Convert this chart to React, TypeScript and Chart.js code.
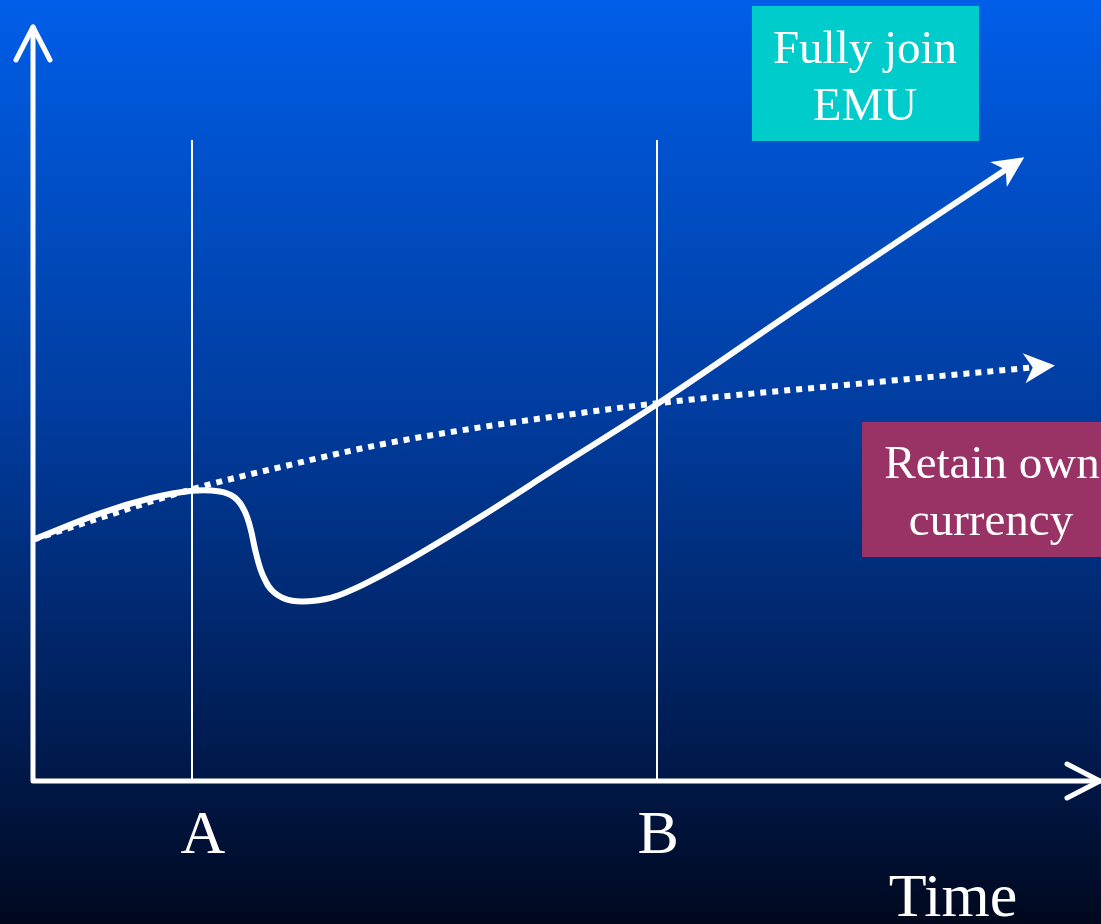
import { useEffect, useRef } from "react";
import { Chart, registerables } from "chart.js";

Chart.register(...registerables);

// Scale ranges (abstract time / level units)
const timeRange = [0, 100];
const levelRange = [0, 100];

// Event markers on the time axis
const eventLabels = ["A", "B"];
const eventTimes = [14.9, 58.5];
const eventLineTop = 85;
const axisTitle = "Time";

// Path when the country fully joins EMU
const joinTimes = [
  0, 6.3, 11.0, 14.9, 17.5, 18.9, 19.8, 20.4, 20.9, 21.6, 22.6,
  24.3, 26.9, 28.8, 31.6, 36.3, 41.9, 49.4, 58.5, 71.9, 91.5,
];
const joinLevels = [
  32.0, 35.5, 37.5, 38.5, 38.4, 37.6, 35.9, 33.4, 30.2, 27.1, 25.0,
  23.9, 24.0, 24.7, 26.5, 30.2, 35.0, 41.8, 50.0, 62.9, 81.4,
];

// Path when the country retains its own currency
const retainTimes = [0, 6.3, 14.9, 23.1, 32.5, 41.9, 51.3, 58.5, 78.2, 94.1];
const retainLevels = [32.0, 34.9, 38.7, 41.6, 44.6, 46.9, 48.8, 50.1, 52.8, 54.9];

const joinLabel = ["Fully join", "EMU"];
const retainLabel = ["Retain own", "currency"];

const SERIF = '"Liberation Serif", "Times New Roman", serif';

function drawStealthArrow(ctx: CanvasRenderingContext2D, x: number, y: number, angle: number) {
  const L = 31;
  const W = 15;
  const lead = 18;
  const dx = Math.cos(angle);
  const dy = Math.sin(angle);
  const nx = -dy;
  const ny = dx;
  const tx = x + dx * lead;
  const ty = y + dy * lead;
  ctx.beginPath();
  ctx.moveTo(tx, ty);
  ctx.lineTo(tx - dx * L + nx * W, ty - dy * L + ny * W);
  ctx.lineTo(tx - dx * L * 0.72, ty - dy * L * 0.72);
  ctx.lineTo(tx - dx * L - nx * W, ty - dy * L - ny * W);
  ctx.closePath();
  ctx.fillStyle = "#ffffff";
  ctx.fill();
}

function drawOpenArrow(ctx: CanvasRenderingContext2D, x: number, y: number, angle: number) {
  const L = 33;
  const W = 17;
  const dx = Math.cos(angle);
  const dy = Math.sin(angle);
  const nx = -dy;
  const ny = dx;
  ctx.beginPath();
  ctx.moveTo(x - dx * L + nx * W, y - dy * L + ny * W);
  ctx.lineTo(x, y);
  ctx.lineTo(x - dx * L - nx * W, y - dy * L - ny * W);
  ctx.stroke();
}

const diagramPlugin = {
  id: "emuDiagram",
  beforeDraw(chart: any) {
    const { ctx, width, height } = chart;
    const g = ctx.createLinearGradient(0, 0, 0, height);
    g.addColorStop(0, "#005ee8");
    g.addColorStop(0.45, "#003c9e");
    g.addColorStop(0.8, "#001c52");
    g.addColorStop(1, "#00081e");
    ctx.save();
    ctx.fillStyle = g;
    ctx.fillRect(0, 0, width, height);
    ctx.restore();
  },
  beforeDatasetsDraw(chart: any) {
    const { ctx, scales, chartArea } = chart;
    ctx.save();
    ctx.strokeStyle = "#ffffff";
    ctx.lineWidth = 2;
    const top = scales.y.getPixelForValue(eventLineTop);
    eventTimes.forEach((t) => {
      const x = Math.round(scales.x.getPixelForValue(t));
      ctx.beginPath();
      ctx.moveTo(x, top);
      ctx.lineTo(x, chartArea.bottom);
      ctx.stroke();
    });
    ctx.restore();
  },
  afterDatasetsDraw(chart: any) {
    const { ctx, scales, chartArea } = chart;
    ctx.save();

    // arrowheads at the end of each path
    chart.data.datasets.forEach((_: any, i: number) => {
      const pts = chart.getDatasetMeta(i).data;
      const a = pts[pts.length - 2];
      const b = pts[pts.length - 1];
      drawStealthArrow(ctx, b.x, b.y, Math.atan2(b.y - a.y, b.x - a.x));
    });

    // axes
    const x0 = scales.x.getPixelForValue(timeRange[0]);
    const x1 = scales.x.getPixelForValue(timeRange[1]);
    const y0 = scales.y.getPixelForValue(levelRange[0]);
    const y1 = scales.y.getPixelForValue(levelRange[1]);
    ctx.strokeStyle = "#ffffff";
    ctx.lineWidth = 5;
    ctx.lineCap = "round";
    ctx.lineJoin = "round";
    ctx.beginPath();
    ctx.moveTo(x0, y1);
    ctx.lineTo(x0, y0);
    ctx.lineTo(x1, y0);
    ctx.stroke();
    drawOpenArrow(ctx, x0, y1, -Math.PI / 2);
    drawOpenArrow(ctx, x1, y0, 0);

    // event labels and axis title
    ctx.fillStyle = "#ffffff";
    ctx.textAlign = "center";
    ctx.textBaseline = "alphabetic";
    ctx.font = `62px ${SERIF}`;
    eventLabels.forEach((lab, i) => {
      const x = scales.x.getPixelForValue(eventTimes[i]);
      ctx.fillText(lab, x + (i === 0 ? 11 : 1), chartArea.bottom + 72);
    });
    ctx.fillText(axisTitle, 953, 916);

    // path labels
    ctx.fillStyle = "#00cccc";
    ctx.fillRect(752, 6, 227, 135);
    ctx.fillStyle = "#993366";
    ctx.fillRect(862, 422, 260, 135);
    ctx.fillStyle = "#ffffff";
    ctx.font = `47px ${SERIF}`;
    ctx.fillText(joinLabel[0], 865, 63);
    ctx.fillText(joinLabel[1], 865, 120);
    ctx.fillText(retainLabel[0], 992, 478);
    ctx.fillText(retainLabel[1], 991, 535);

    ctx.restore();
  },
};

export default function App() {
  const canvasRef = useRef<HTMLCanvasElement | null>(null);

  useEffect(() => {
    document.body.style.margin = "0";
    const canvas = canvasRef.current;
    if (!canvas) return;
    const chart = new Chart(canvas, {
      type: "line",
      data: {
        datasets: [
          {
            label: "Fully join EMU",
            data: joinTimes.map((t, i) => ({ x: t, y: joinLevels[i] })),
            borderColor: "#ffffff",
            borderWidth: 6,
            pointRadius: 0,
            tension: 0.4,
            borderJoinStyle: "round",
            fill: false,
          },
          {
            label: "Retain own currency",
            data: retainTimes.map((t, i) => ({ x: t, y: retainLevels[i] })),
            borderColor: "#ffffff",
            borderWidth: 6,
            borderDash: [6, 6],
            borderCapStyle: "butt",
            pointRadius: 0,
            cubicInterpolationMode: "monotone",
            fill: false,
          },
        ],
      },
      options: {
        responsive: false,
        animation: false,
        devicePixelRatio: 1,
        layout: {
          autoPadding: false,
          padding: { left: 33, right: 1, top: 27, bottom: 143 },
        },
        scales: {
          x: { type: "linear", min: timeRange[0], max: timeRange[1], display: false },
          y: { type: "linear", min: levelRange[0], max: levelRange[1], display: false },
        },
        plugins: {
          legend: { display: false },
          tooltip: { enabled: false },
        },
      } as any,
      plugins: [diagramPlugin],
    });
    return () => chart.destroy();
  }, []);

  return (
    <div style={{ width: 1101, height: 924, overflow: "hidden" }}>
      <canvas ref={canvasRef} width={1101} height={924} style={{ display: "block" }} />
    </div>
  );
}
